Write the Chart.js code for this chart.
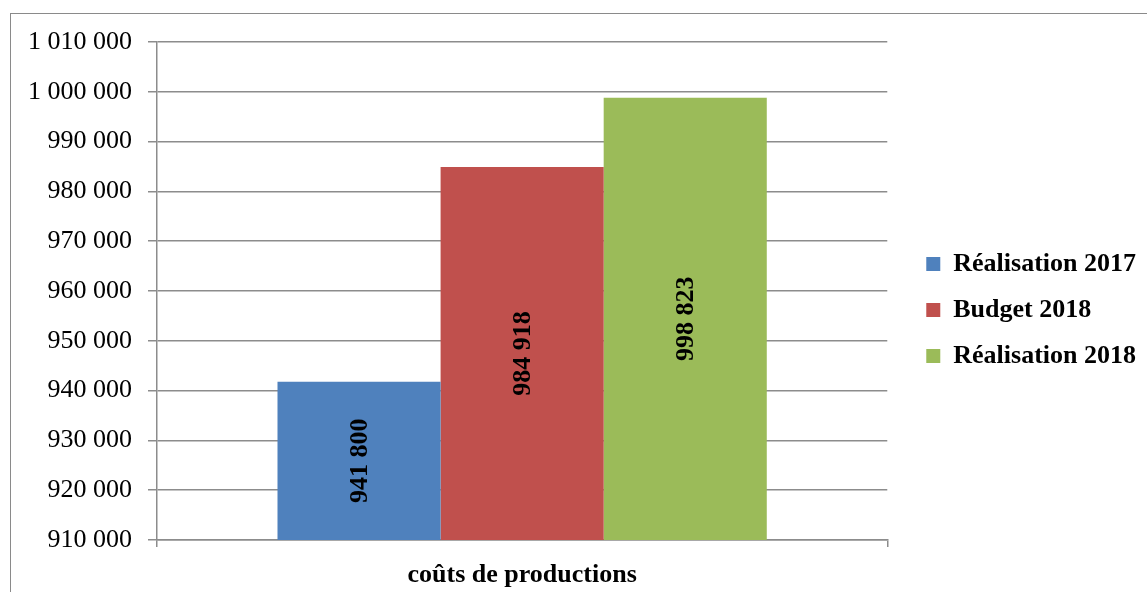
<!DOCTYPE html>
<html lang="fr">
<head>
  <meta charset="UTF-8">
  <title>coûts de productions</title>
  <script src="https://cdn.jsdelivr.net/npm/chart.js"></script>
  <style>
    html, body {
      margin: 0;
      padding: 0;
      background: #fff;
      overflow: hidden;
    }
    .frame {
      position: absolute;
      left: 10px;
      top: 13px;
      width: 1200px;
      height: 700px;
      border-left: 1.5px solid #8a8a8a;
      border-top: 1.5px solid #8a8a8a;
    }
    .wrap {
      position: absolute;
      left: 0;
      top: 0;
      width: 1147px;
      height: 592px;
    }
  </style>
</head>
<body>

<div class="frame"></div>
<div class="wrap"><canvas id="costChart"></canvas></div>

<script>
  const categories = ["coûts de productions"];
  const seriesNames = ["Réalisation 2017", "Budget 2018", "Réalisation 2018"];
  const seriesValues = [941800, 984918, 998823];
  const seriesColors = ["#4f81bd", "#c0504d", "#9bbb59"];
  const yTicks = [910000, 920000, 930000, 940000, 950000, 960000, 970000, 980000, 990000, 1000000, 1010000];

  const FONT = "'Liberation Serif', 'Times New Roman', serif";
  const GRID = "#8c8c8c";
  const LEGEND_GAP = 19;
  const LEGEND_LIFT = 7;

  function spaced(v) {
    return Math.round(v).toString().replace(/\B(?=(\d{3})+(?!\d))/g, " ");
  }

  // value labels, rotated, centred in each bar
  const barLabels = {
    id: "barLabels",
    afterDraw(chart) {
      const c = chart.ctx;
      const yScale = chart.scales.y;
      c.save();
      c.font = "bold 26px " + FONT;
      c.fillStyle = "#000000";
      c.textAlign = "center";
      c.textBaseline = "middle";
      chart.data.datasets.forEach((ds, i) => {
        const meta = chart.getDatasetMeta(i);
        meta.data.forEach((bar, j) => {
          const v = ds.data[j];
          const top = yScale.getPixelForValue(v);
          const base = yScale.getPixelForValue(yScale.min);
          c.save();
          c.translate(bar.x, (top + base) / 2);
          c.rotate(-Math.PI / 2);
          c.fillText(spaced(v), 0, 1);
          c.restore();
        });
      });
      c.restore();
    }
  };

  // push the legend a bit away from the plot, like the original
  const legendGap = {
    id: "legendGap",
    beforeLayout(chart) {
      const lg = chart.legend;
      if (lg && !lg._gapPatched) {
        const fit = lg.fit;
        lg.fit = function () {
          fit.call(this);
          this.width += LEGEND_GAP;
        };
        lg._gapPatched = true;
      }
    },
    afterLayout(chart) {
      const lg = chart.legend;
      if (lg) {
        lg.left += LEGEND_GAP;
        lg.top -= LEGEND_LIFT;
        lg.bottom -= LEGEND_LIFT;
      }
    }
  };

  const datasets = seriesNames.map((name, i) => ({
    label: name,
    data: [seriesValues[i]],
    backgroundColor: seriesColors[i],
    borderWidth: 0,
    categoryPercentage: 0.67,
    barPercentage: 1.0
  }));

  const canvasCtx = document.getElementById("costChart").getContext("2d");
  new Chart(canvasCtx, {
    type: "bar",
    data: {
      labels: categories,
      datasets: datasets
    },
    options: {
      responsive: true,
      maintainAspectRatio: false,
      animation: false,
      layout: {
        padding: { left: 0, right: 1, top: 42, bottom: 0 }
      },
      plugins: {
        legend: {
          position: "right",
          labels: {
            font: { family: FONT, size: 26, weight: "bold" },
            color: "#000",
            boxWidth: 14,
            boxHeight: 14,
            padding: 20
          }
        },
        tooltip: { enabled: false }
      },
      scales: {
        x: {
          afterFit(scale) {
            scale.height = 52;
          },
          grid: {
            offset: true,
            drawOnChartArea: false,
            color: GRID,
            lineWidth: 1.5,
            tickLength: 7
          },
          border: { color: GRID, width: 1.5 },
          ticks: {
            color: "#000",
            font: { family: FONT, size: 26, weight: "bold" },
            padding: 13
          }
        },
        y: {
          min: 910000,
          max: 1010000,
          afterBuildTicks(scale) {
            scale.ticks = yTicks.map(v => ({ value: v }));
          },
          afterFit(scale) {
            scale.width = 157;
          },
          grid: {
            color: GRID,
            lineWidth: 1.5,
            tickLength: 9
          },
          border: { color: GRID, width: 1.5 },
          ticks: {
            color: "#000",
            font: { family: FONT, size: 26 },
            padding: 16,
            callback: v => spaced(v)
          }
        }
      }
    },
    plugins: [legendGap, barLabels]
  });
</script>

</body>
</html>
